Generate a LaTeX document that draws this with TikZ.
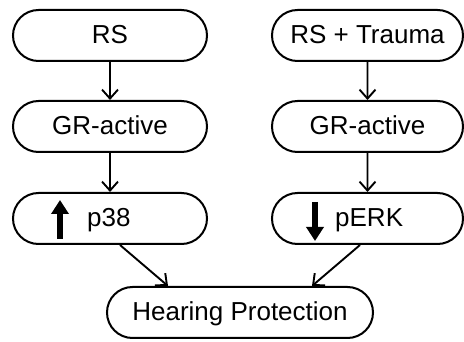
\documentclass[tikz,border=0pt]{standalone}
\usepackage{fontspec}
\setmainfont{Liberation Sans}
\usetikzlibrary{shapes.misc,arrows.meta}
\begin{document}
\begin{tikzpicture}[x=1pt,y=-1pt,
  pill/.style={draw, line width=2pt, rounded rectangle, minimum height=51pt,
    inner sep=0pt, text height=16pt, text depth=0pt,
    font=\fontsize{26}{30}\selectfont},
  lbl/.style={anchor=base west, inner sep=0pt, font=\fontsize{26}{30}\selectfont},
  link/.style={line width=1.9pt, -{Straight Barb[length=9pt,width=16pt]}},
  bold/.style={line width=5.5pt, -{Triangle[length=14pt,width=17pt]}}]
\useasboundingbox (0,0) rectangle (464,342);

% left column
\node[pill, minimum width=194pt] (rs)   at (110,35.5)  {RS};
\node[pill, minimum width=194pt] (grl)  at (110,126.5) {GR-active};
\node[pill, minimum width=194pt] (p38)  at (110,218.5) {};
\node[lbl] (p38t) at (87,226.5) {p38};
\draw[bold] (60,239) -- (60,200);

% right column
\node[pill, minimum width=191pt] (rst)  at (367.5,35.5)  {RS + Trauma};
\node[pill, minimum width=191pt] (grr)  at (367.5,126.5) {GR-active};
\node[pill, minimum width=191pt] (perk) at (367.5,218.5) {};
\node[lbl] (perkt) at (335,226.5) {pERK};
\draw[bold] (315,202) -- (315,241);

% outcome
\node[pill, minimum width=266pt] (hp) at (240,312.5) {Hearing Protection};

% connectors
\draw[link] (rs) -- (grl);
\draw[link] (grl) -- (p38);
\draw[link] (rst) -- (grr);
\draw[link] (grr) -- (perk);
\draw[link] ([xshift=10pt]p38.south) -- ([xshift=-72pt]hp.north);
\draw[link] ([xshift=-7.5pt]perk.south) -- ([xshift=72pt]hp.north);
\end{tikzpicture}
\end{document}
